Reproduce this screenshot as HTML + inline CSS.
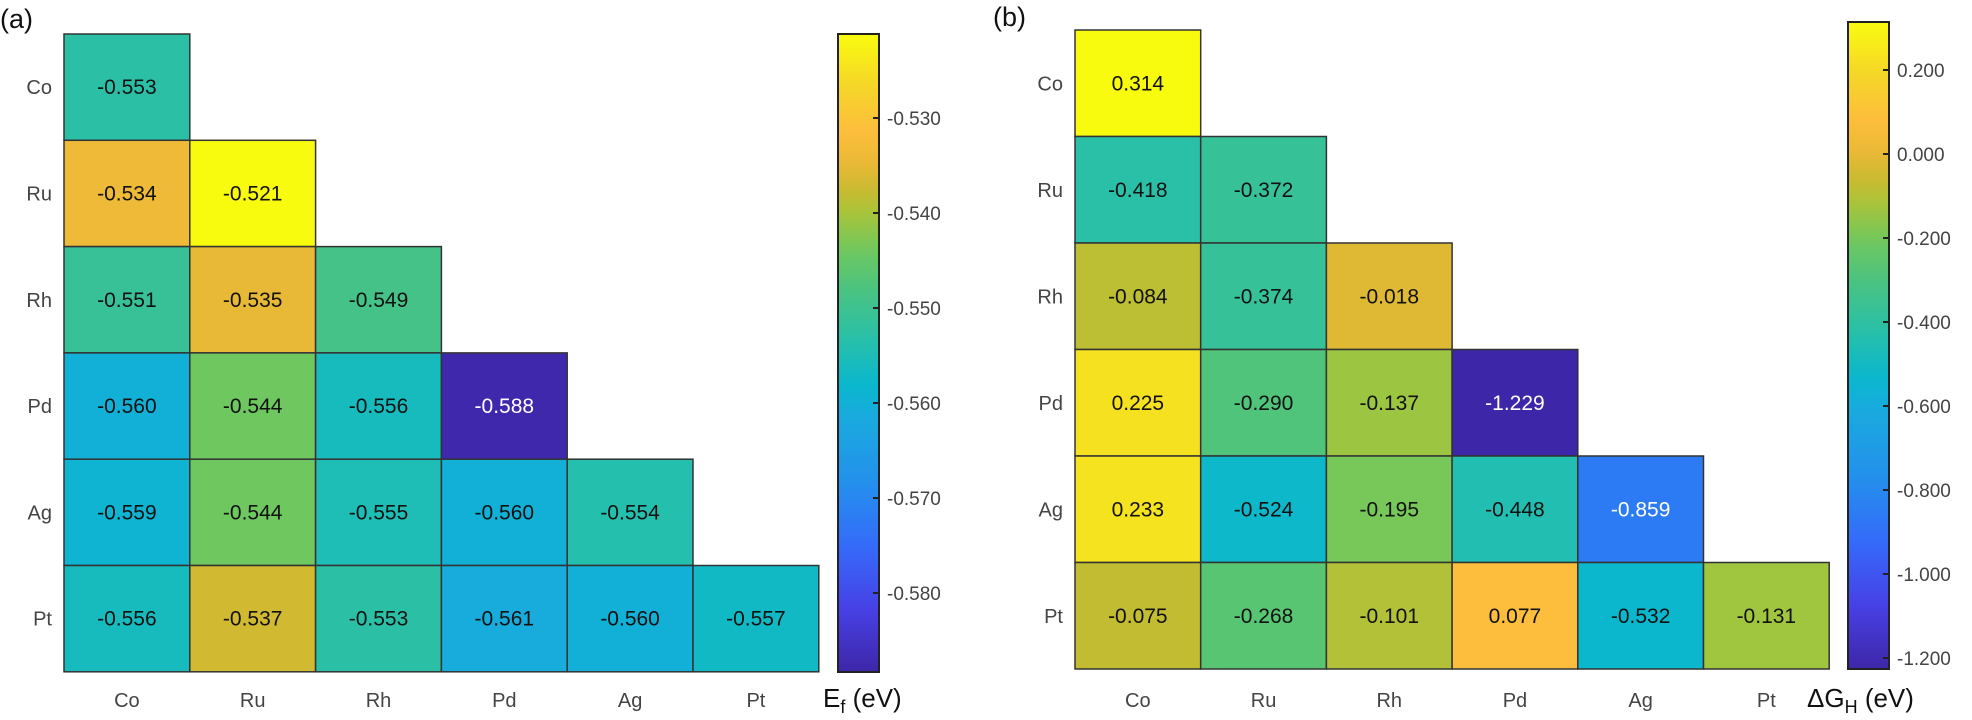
<!DOCTYPE html>
<html><head><meta charset="utf-8"><style>
html,body{margin:0;padding:0;background:#fff;width:1972px;height:720px;overflow:hidden}
svg{display:block}
text{font-family:"Liberation Sans",sans-serif}
</style></head><body>
<svg id="s" width="1972" height="720" xmlns="http://www.w3.org/2000/svg"></svg>
<script>
const A=[[0,[62,38,168]],[0.1,[71,65,230]],[0.2,[52,108,250]],[0.3,[35,145,235]],[0.4,[25,170,222]],[0.45,[10,183,205]],[0.52,[40,192,170]],[0.6,[75,195,128]],[0.66,[110,200,95]],[0.72,[168,196,57]],[0.76,[205,185,48]],[0.8,[235,185,55]],[0.85,[253,190,60]],[0.92,[245,215,40]],[1,[249,251,14]]];
function col(t){t=Math.max(0,Math.min(1,t));for(let i=1;i<A.length;i++){if(t<=A[i][0]){const [t0,c0]=A[i-1],[t1,c1]=A[i];const f=(t-t0)/(t1-t0);return 'rgb('+c0.map((v,k)=>Math.round(v+(c1[k]-v)*f)).join(',')+')';}}return 'rgb(249,251,14)';}
const el=['Co','Ru','Rh','Pd','Ag','Pt'];
let h='';
function grad(id){let s='<linearGradient id="'+id+'" x1="0" y1="1" x2="0" y2="0">';for(let i=0;i<=40;i++){s+='<stop offset="'+(i/40)+'" stop-color="'+col(i/40)+'"/>';}return s+'</linearGradient>';}
h+='<defs>'+grad('g')+'</defs>';
function panel(x0,y0,cw,rh,data,vmin,vmax,white){
 for(let r=0;r<6;r++){for(let c=0;c<=r;c++){const v=data[r][c];const t=(v-vmin)/(vmax-vmin);
  const x=x0+c*cw,y=y0+r*rh;
  h+='<rect x="'+x+'" y="'+y+'" width="'+cw+'" height="'+rh+'" fill="'+col(t)+'" stroke="#333" stroke-width="1.5"/>';
  h+='<text x="'+(x+cw/2)+'" y="'+(y+rh/2+7)+'" font-size="21" text-anchor="middle" fill="'+(white.includes(v)?'#fff':'#111')+'">'+v.toFixed(3)+'</text>';}
  h+='<text x="'+(x0-12)+'" y="'+(y0+r*rh+rh/2+7)+'" font-size="20" text-anchor="end" fill="#444">'+el[r]+'</text>';
  h+='<text x="'+(x0+r*cw+cw/2)+'" y="707" font-size="20" text-anchor="middle" fill="#444">'+el[r]+'</text>';}
}
const da=[[-0.553],[-0.534,-0.521],[-0.551,-0.535,-0.549],[-0.560,-0.544,-0.556,-0.588],[-0.559,-0.544,-0.555,-0.560,-0.554],[-0.556,-0.537,-0.553,-0.561,-0.560,-0.557]];
const db=[[0.314],[-0.418,-0.372],[-0.084,-0.374,-0.018],[0.225,-0.290,-0.137,-1.229],[0.233,-0.524,-0.195,-0.448,-0.859],[-0.075,-0.268,-0.101,0.077,-0.532,-0.131]];
panel(64,34,125.8,106.3,da,-0.5884,-0.5212,[-0.588]);
panel(1075,30,125.7,106.5,db,-1.229,0.314,[-1.229,-0.859]);
h+='<rect x="838" y="34" width="41" height="638" fill="url(#g)" stroke="#222" stroke-width="2"/>';
[-0.53,-0.54,-0.55,-0.56,-0.57,-0.58].forEach((v,i)=>{const y=118+95*i;h+='<line x1="873" x2="879" y1="'+y+'" y2="'+y+'" stroke="#222" stroke-width="2"/><text x="887" y="'+(y+7)+'" font-size="19" fill="#444">'+v.toFixed(3)+'</text>';});
h+='<rect x="1848" y="22" width="41" height="647" fill="url(#g)" stroke="#222" stroke-width="2"/>';
[0.2,0,-0.2,-0.4,-0.6,-0.8,-1.0,-1.2].forEach((v,i)=>{const y=70+84*i;h+='<line x1="1883" x2="1889" y1="'+y+'" y2="'+y+'" stroke="#222" stroke-width="2"/><text x="1897" y="'+(y+7)+'" font-size="19" fill="#444">'+v.toFixed(3)+'</text>';});
h+='<text x="0" y="28" font-size="27" fill="#111">(a)</text>';
h+='<text x="993" y="26" font-size="27" fill="#111">(b)</text>';
h+='<text x="823" y="707" font-size="26" fill="#111">E<tspan font-size="18" dy="6">f</tspan><tspan dy="-6"> (eV)</tspan></text>';
h+='<text x="1807" y="707" font-size="26" fill="#111">ΔG<tspan font-size="18" dy="6">H</tspan><tspan dy="-6"> (eV)</tspan></text>';
document.getElementById('s').innerHTML=h;
</script>
</body></html>
